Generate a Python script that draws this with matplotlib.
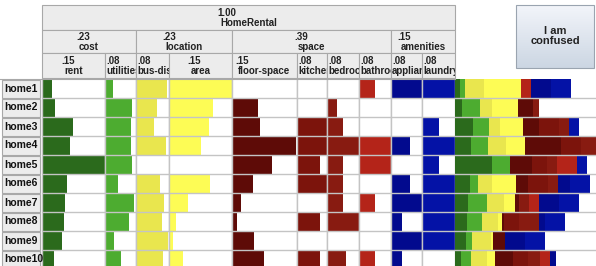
import matplotlib.pyplot as plt
import numpy as np
from matplotlib.patches import Rectangle
from matplotlib.transforms import Bbox, TransformedBbox

W, H = 596, 266

homes = ["home1", "home2", "home3", "home4", "home5",
         "home6", "home7", "home8", "home9", "home10"]

attrs = ["rent", "utilities", "bus-distance", "area", "floor-space",
         "kitchen", "bedrooms", "bathrooms", "appliances", "laundry"]
attr_weights = [.15, .08, .08, .15, .15, .08, .08, .08, .08, .08]
attr_wlabels = [".15", ".08", ".08", ".15", ".15", ".08", ".08", ".08", ".08", ".08"]
attr_colors = ["#2b6a1c", "#4dac30", "#e9e64e", "#fdfc55", "#5e0b07",
               "#7c140c", "#881b11", "#b42419", "#020a8e", "#0412a6"]

groups = ["cost", "location", "space", "amenities"]
group_wlabels = [".23", ".23", ".39", ".15"]

# score of each home on each attribute (0..1)
rent = [0.14, 0.19, 0.48, 0.44, 1.00, 0.39, 0.36, 0.33, 0.30, 0.17]
utilities = [0.24, 0.88, 0.82, 0.82, 0.87, 0.41, 0.93, 0.76, 0.27, 0.49]
bus_distance = [0.95, 0.64, 0.53, 0.91, 0.00, 0.71, 0.85, 0.77, 0.97, 0.82]
area = [1.00, 0.69, 0.62, 0.50, 0.00, 0.65, 0.29, 0.10, 0.05, 0.20]
floor_space = [0.00, 0.39, 0.42, 0.98, 0.60, 0.31, 0.12, 0.06, 0.33, 0.48]
kitchen = [0.00, 0.00, 1.00, 1.00, 0.75, 1.00, 0.00, 0.75, 0.00, 0.75]
bedrooms = [0.00, 0.29, 0.50, 1.00, 0.50, 0.50, 0.50, 1.00, 0.00, 0.60]
bathrooms = [0.50, 0.00, 0.00, 1.00, 1.00, 0.00, 0.50, 0.00, 0.00, 0.50]
appliances = [1.00, 0.00, 0.00, 0.60, 0.00, 0.60, 1.00, 0.33, 1.00, 0.33]
laundry = [1.00, 0.00, 0.50, 1.00, 0.50, 1.00, 1.00, 1.00, 1.00, 0.00]

scores = np.array([rent, utilities, bus_distance, area, floor_space,
                   kitchen, bedrooms, bathrooms, appliances, laundry])

# layout in pixels
col_edges = [42, 105, 136, 169, 232, 297, 327, 359, 391, 422, 455]
group_edges = [42, 136, 232, 391, 455]
row_top, row_h = 79, 19
grid = "#c4c4c4"
hdr_fill = "#ececec"
hdr_edge = "#a8a8a8"
font = "Liberation Sans"


def fbox(x0, y0, x1, y1):
    return [x0 / W, 1 - y1 / H, (x1 - x0) / W, (y1 - y0) / H]


fig = plt.figure(figsize=(W / 100, H / 100), dpi=100)
fig.patch.set_facecolor("white")

rows = np.arange(len(homes))
y_bottom = row_top + row_h * len(homes)

# one axes per attribute column
for i, name in enumerate(attrs):
    ax = fig.add_axes(fbox(col_edges[i], row_top, col_edges[i + 1], y_bottom))
    ax.barh(rows, scores[i], height=0.96, left=0, color=attr_colors[i])
    ax.set_xlim(-0.02, 1.0)
    ax.set_ylim(len(homes) - 0.5, -0.5)
    for r in rows[:-1]:
        ax.axhline(r + 0.5, color=grid, lw=1)
    ax.set_xticks([])
    ax.set_yticks([])
    for s in ["top", "bottom"]:
        ax.spines[s].set_visible(False)
    for s in ["left", "right"]:
        ax.spines[s].set_color(grid)
        ax.spines[s].set_linewidth(1)

# stacked total panel
ax = fig.add_axes(fbox(455, row_top, W, y_bottom))
left = np.zeros(len(homes))
for i in range(len(attrs)):
    seg = scores[i] * attr_weights[i]
    ax.barh(rows, seg, left=left, height=0.96, color=attr_colors[i])
    left += seg
ax.set_xlim(0, 0.566)
ax.set_ylim(len(homes) - 0.5, -0.5)
for r in rows[:-1]:
    ax.axhline(r + 0.5, color=grid, lw=1)
ax.set_xticks([])
ax.set_yticks([])
for s in ax.spines.values():
    s.set_visible(False)

# overlay in pixel coordinates for headers, labels and button
ov = fig.add_axes([0, 0, 1, 1], zorder=5)
ov.set_xlim(0, W)
ov.set_ylim(H, 0)
ov.axis("off")

txt = dict(fontsize=7, fontweight="bold", family=font, color="#222222")
centered = []


def cell(x0, y0, x1, y1, top, bottom, align="center"):
    ov.add_patch(Rectangle((x0, y0), x1 - x0, y1 - y0, facecolor=hdr_fill,
                           edgecolor=hdr_edge, lw=0.8))
    clip = TransformedBbox(Bbox([[x0, y0], [x1 - 0.5, y1]]), ov.transData)
    if align == "center":
        t2 = ov.text((x0 + x1) / 2, y0 + (y1 - y0) * 0.72, bottom,
                     ha="center", va="center", **txt)
        t1 = ov.text(x0, y0 + (y1 - y0) * 0.3, top, ha="left", va="center", **txt)
        centered.append((t1, t2))
    else:
        t1 = ov.text(x0 + 1.5, y0 + (y1 - y0) * 0.3, top, ha="left",
                     va="center", **txt)
        t2 = ov.text(x0 + 1, y0 + (y1 - y0) * 0.72, bottom, ha="left",
                     va="center", **txt)
    for t in (t1, t2):
        t.set_clip_on(True)
        t.set_clip_box(clip)
        t.set_clip_path(None)


cell(42, 5, 455, 30, "1.00", "HomeRental")
for g in range(len(groups)):
    cell(group_edges[g], 30, group_edges[g + 1], 53, group_wlabels[g], groups[g])
for i in range(len(attrs)):
    wide = col_edges[i + 1] - col_edges[i] > 45
    cell(col_edges[i], 53, col_edges[i + 1], 78, attr_wlabels[i], attrs[i],
         align="center" if wide else "left")

ov.plot([0, 455], [78.5, 78.5], color=hdr_edge, lw=0.8)

# row labels
for r, name in enumerate(homes):
    y0 = row_top + r * row_h
    ov.add_patch(Rectangle((2, y0 + 0.5), 38, row_h - 1, facecolor=hdr_fill,
                           edgecolor=hdr_edge, lw=0.8))
    ov.text(4, y0 + row_h / 2, name, ha="left", va="center", fontsize=7.5,
            fontweight="bold", family=font, color="#111111")

# button with vertical gradient
grad = np.linspace(0, 1, 64).reshape(-1, 1)
top_c = np.array([0.95, 0.96, 0.98])
bot_c = np.array([0.80, 0.84, 0.89])
img = top_c * (1 - grad[..., None]) + bot_c * grad[..., None]
ov.imshow(img, extent=[516, 594, 68, 5], aspect="auto", zorder=1)
ov.add_patch(Rectangle((516, 5), 78, 63, facecolor="none", edgecolor="#9aa4b0",
                       lw=0.8, zorder=2))
ov.text(555, 36, "I am\nconfused", ha="center", va="center", fontsize=8,
        fontweight="bold", family=font, color="#222222", linespacing=1.1, zorder=3)
ov.set_xlim(0, W)
ov.set_ylim(H, 0)

# place each weight just left of its centred name
fig.canvas.draw()
r = fig.canvas.get_renderer()
for t1, t2 in centered:
    bb = t2.get_window_extent(r)
    t1.set_x(bb.x0 - 3)

fig.savefig("out.png", dpi=100)
